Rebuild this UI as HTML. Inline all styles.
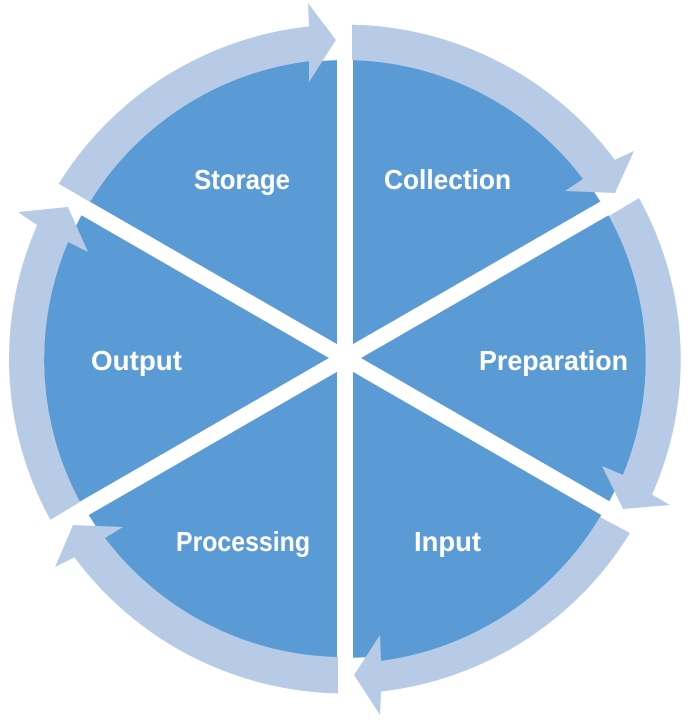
<!DOCTYPE html>
<html>
<head>
<meta charset="utf-8">
<style>
html,body{margin:0;padding:0;background:#fff;width:693px;height:723px;overflow:hidden}
svg{display:block}
text{font-family:"Liberation Sans",sans-serif;font-weight:bold;font-size:28px;fill:#fff}
</style>
</head>
<body>
<svg width="693" height="723" viewBox="0 0 693 723" xmlns="http://www.w3.org/2000/svg">
<rect width="693" height="723" fill="#fff"/>
<ellipse cx="345" cy="359" rx="300.5" ry="299" fill="#5B9BD5"/>
<g fill="#5B9BD5">
<path d="M352 60 A300 300 0 0 1 583 179 L345 359 Z"/>
<path d="M609 216 A300 300 0 0 1 623 475 L345 359 Z"/>
<path d="M600 517 A300 300 0 0 1 381 661 L345 359 Z"/>
<path d="M338 657 A300 300 0 0 1 105 538 L345 359 Z"/>
<path d="M80 502 A300 300 0 0 1 68 242 L345 359 Z"/>
<path d="M90 202 A300 300 0 0 1 309 61 L345 359 Z"/>
</g>
<g stroke="#fff" stroke-width="16" fill="none">
<line x1="345" y1="0" x2="345" y2="720"/>
<line x1="45" y1="185" x2="645" y2="531"/>
<line x1="45" y1="531" x2="645" y2="185"/>
</g>
<g fill="#B7CBE6">
<path d="M352 24.6 A336 334.5 0 0 1 614.8 159.7 L634 151 L615 193 L565 191 L583 179 A300 300 0 0 0 352 60 Z"/>
<path d="M639 198 A336 334.5 0 0 1 652.1 494.6 L670 505 L623 509 L602 466 L623 475 A300 300 0 0 0 609 216 Z"/>
<path d="M630 533 A336 334.5 0 0 1 381.1 691.6 L380 715 L354 675 L380 635 L381 661 A300 300 0 0 0 600 517 Z"/>
<path d="M338 693.4 A336 334.5 0 0 1 74.5 557.4 L55 567 L73 525 L123 527 L105 538 A300 300 0 0 0 338 657 Z"/>
<path d="M50.4 519.9 A336 334.5 0 0 1 37.1 225.1 L18 212 L68 207 L88 252 L68 242 A300 300 0 0 0 80 502 Z"/>
<path d="M58.7 183.8 A336 334.5 0 0 1 309.1 26.4 L308 3 L336 40 L309 82 L309 61 A300 300 0 0 0 90 202 Z"/>
</g>
<text x="194" y="189" textLength="96" lengthAdjust="spacingAndGlyphs">Storage</text>
<text x="384" y="189" textLength="127" lengthAdjust="spacingAndGlyphs">Collection</text>
<text x="479" y="370" textLength="149" lengthAdjust="spacingAndGlyphs">Preparation</text>
<text x="91" y="370" textLength="91" lengthAdjust="spacingAndGlyphs">Output</text>
<text x="414" y="551" textLength="67" lengthAdjust="spacingAndGlyphs">Input</text>
<text x="176" y="551" textLength="134" lengthAdjust="spacingAndGlyphs">Processing</text>
</svg>
</body>
</html>
